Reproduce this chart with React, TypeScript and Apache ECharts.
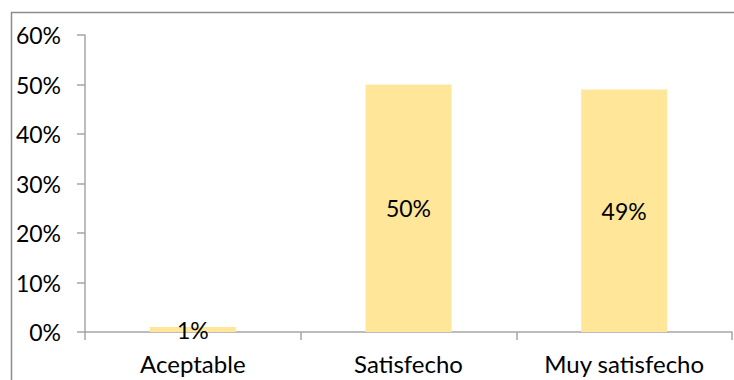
import React, { useEffect, useRef } from "react";
import * as echarts from "echarts";

const categories = ["Aceptable", "Satisfecho", "Muy satisfecho"];
const values = [1, 50, 49];
const yTicks = [0, 10, 20, 30, 40, 50, 60];

const FONT = "Lato";
const AXIS_GRAY = "#A6A6A6";

export default function App() {
  const ref = useRef<HTMLDivElement>(null);

  useEffect(() => {
    if (!ref.current) return;
    const chart = echarts.init(ref.current, undefined, { renderer: "svg" });
    chart.setOption({
      animation: false,
      backgroundColor: "#ffffff",
      textStyle: { fontFamily: FONT },
      graphic: [
        {
          type: "rect",
          shape: { x: 11.5, y: 12.5, width: 800, height: 400 },
          style: { fill: "none", stroke: "#8C8C8C", lineWidth: 1.5 },
          silent: true,
          z: 0,
        },
      ],
      grid: { left: 85, right: 2, top: 35, bottom: 48, containLabel: false },
      xAxis: {
        type: "category",
        data: categories,
        axisLine: { show: true, lineStyle: { color: AXIS_GRAY, width: 1.5 } },
        axisTick: {
          show: true,
          alignWithLabel: false,
          length: 8,
          lineStyle: { color: AXIS_GRAY, width: 1.5 },
        },
        axisLabel: {
          color: "#000000",
          fontFamily: FONT,
          fontSize: 24,
          margin: 19,
        },
      },
      yAxis: {
        type: "value",
        min: yTicks[0],
        max: yTicks[yTicks.length - 1],
        interval: 10,
        axisLine: { show: true, lineStyle: { color: AXIS_GRAY, width: 1.5 } },
        axisTick: {
          show: true,
          length: 8,
          lineStyle: { color: AXIS_GRAY, width: 1.5 },
        },
        splitLine: { show: false },
        axisLabel: {
          color: "#000000",
          fontFamily: FONT,
          fontSize: 23,
          margin: 24,
          formatter: (v: number) => `${v}%`,
        },
      },
      series: [
        {
          type: "bar",
          data: values,
          barWidth: 86,
          itemStyle: { color: "#FFE699" },
          label: {
            show: true,
            position: "inside",
            color: "#000000",
            fontFamily: FONT,
            fontSize: 23,
            formatter: (p: any) => `${p.value}%`,
          },
        },
      ],
    });
    return () => chart.dispose();
  }, []);

  return (
    <div
      ref={ref}
      style={{ position: "fixed", left: 0, top: 0, width: 734, height: 380 }}
    />
  );
}
